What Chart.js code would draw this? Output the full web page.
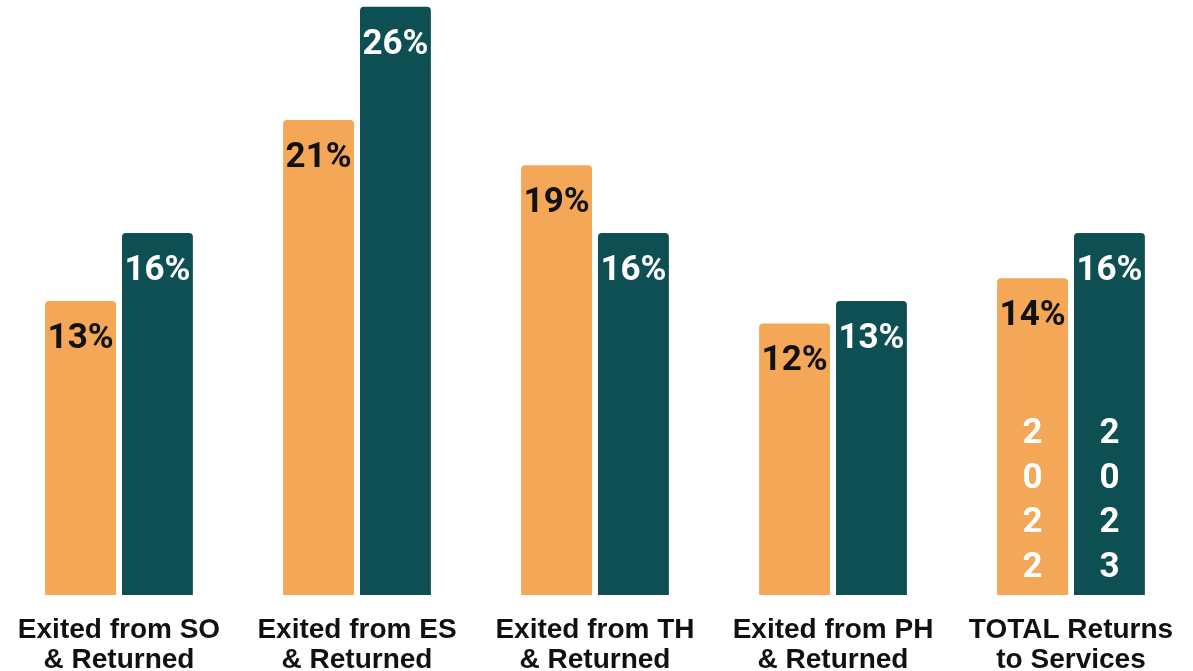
<!DOCTYPE html>
<html>
<head>
<meta charset="utf-8">
<title>Returns to Services</title>
<script src="https://cdn.jsdelivr.net/npm/chart.js@4/dist/chart.umd.min.js"></script>
<style>
    html, body { margin: 0; padding: 0; background: #ffffff; }
    #wrap { width: 1193px; height: 671px; }
</style>
</head>
<body>
<div id="wrap"><canvas id="returnsChart"></canvas></div>
<script>
const categories = [
    ['Exited from SO', '& Returned'],
    ['Exited from ES', '& Returned'],
    ['Exited from TH', '& Returned'],
    ['Exited from PH', '& Returned'],
    ['TOTAL Returns', 'to Services']
];
const values2022 = [13, 21, 19, 12, 14];
const values2023 = [16, 26, 16, 13, 16];
const yearLabels = ['2022', '2023'];

// percent on top of each bar, year written down the last bar
const barLabels = {
    id: 'barLabels',
    afterDatasetsDraw(chart) {
        const ctx = chart.ctx;
        ctx.save();
        ctx.textAlign = 'center';
        ctx.textBaseline = 'middle';
        ctx.font = 'bold 35px Roboto';
        chart.data.datasets.forEach((ds, i) => {
            const meta = chart.getDatasetMeta(i);
            meta.data.forEach((bar, j) => {
                ctx.fillStyle = ds.labelColor;
                ctx.fillText(ds.data[j] + '%', bar.x, bar.y + 38);
            });
            // year digits stacked in the TOTAL bar
            const last = meta.data[meta.data.length - 1];
            const chars = ds.label.split('');
            ctx.fillStyle = '#ffffff';
            chars.forEach((c, k) => {
                ctx.fillText(c, last.x, last.base - 27 - (chars.length - 1 - k) * 44.5);
            });
        });
        ctx.restore();
    }
};

function drawChart() {
    var ctx = document.getElementById('returnsChart').getContext('2d');
    var returnsChart = new Chart(ctx, {
        type: 'bar',
        data: {
            labels: categories,
            datasets: [{
                label: yearLabels[0],
                data: values2022,
                backgroundColor: '#f3a757',
                labelColor: '#111111',
                borderRadius: { topLeft: 4, topRight: 4 },
                borderSkipped: 'start',
                categoryPercentage: 0.646,
                barPercentage: 0.922
            }, {
                label: yearLabels[1],
                data: values2023,
                backgroundColor: '#0d4f53',
                labelColor: '#ffffff',
                borderRadius: { topLeft: 4, topRight: 4 },
                borderSkipped: 'start',
                categoryPercentage: 0.646,
                barPercentage: 0.922
            }]
        },
        options: {
            responsive: true,
            maintainAspectRatio: false,
            animation: false,
            layout: { padding: { left: 0, right: 3, top: 0, bottom: 0 } },
            plugins: {
                legend: { display: false },
                tooltip: { enabled: false }
            },
            scales: {
                x: {
                    grid: { display: false },
                    border: { display: false },
                    ticks: {
                        color: '#111111',
                        padding: 12,
                        maxRotation: 0,
                        font: { family: 'Liberation Sans', weight: 'bold', size: 28, lineHeight: 1.07 }
                    },
                    afterFit(scale) { scale.height = 76; }
                },
                y: {
                    display: false,
                    min: 0,
                    max: 26.3
                }
            }
        },
        plugins: [barLabels]
    });
}

document.fonts.load('bold 35px Roboto').then(drawChart, drawChart);
</script>
</body>
</html>
